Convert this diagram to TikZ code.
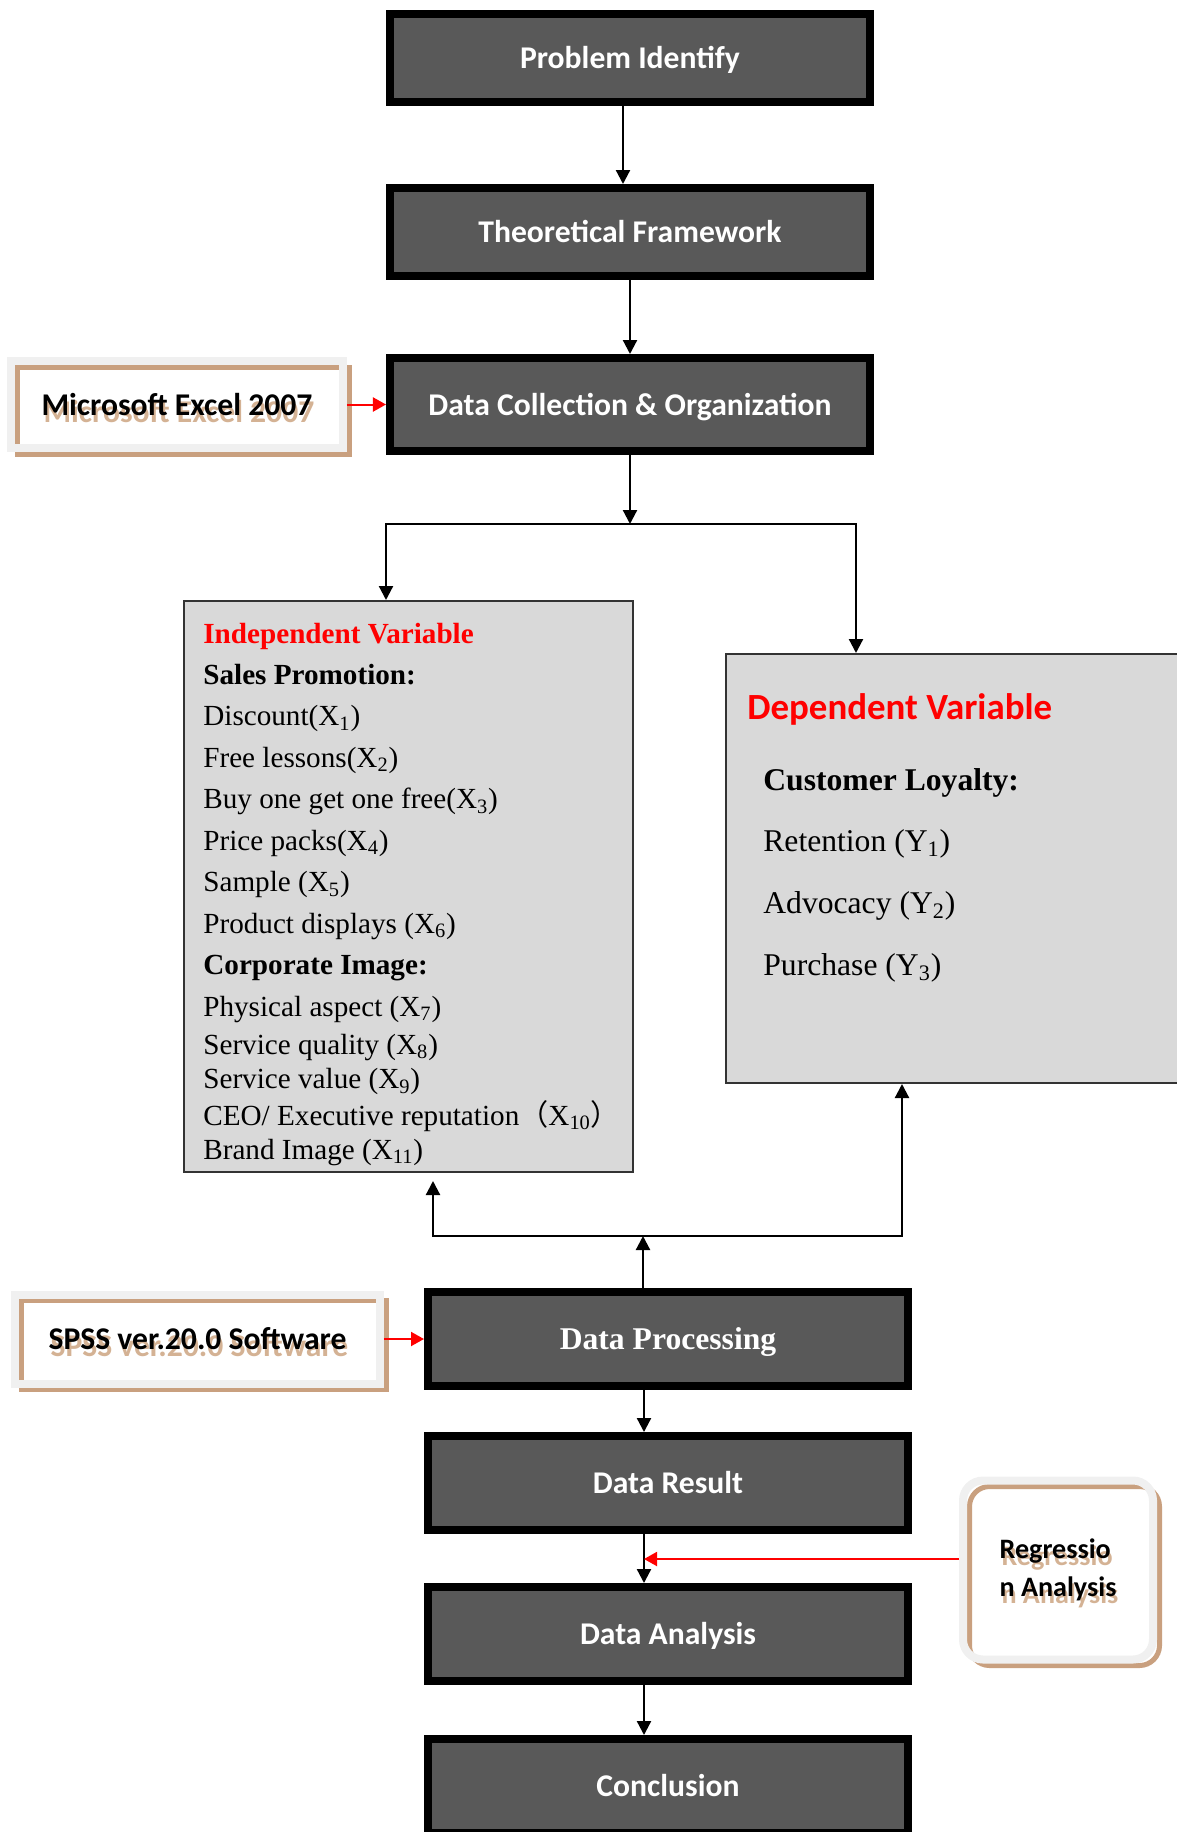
\documentclass[tikz,border=0pt]{standalone}
\usepackage{fontspec}
\setmainfont{Liberation Serif}
\newfontfamily\calibri{Carlito}
\newfontfamily\cjk{Noto Sans CJK SC}
\usepackage{xcolor}
\usetikzlibrary{arrows.meta, positioning}

\definecolor{boxgray}{RGB}{89,89,89}
\definecolor{panelgray}{RGB}{217,217,217}
\definecolor{framegray}{RGB}{240,240,240}
\definecolor{shadowtan}{RGB}{201,160,127}
\definecolor{ghosttan}{RGB}{212,178,148}

% text with a soft brown copy a little below it
\newcommand{\ghost}[1]{\leavevmode\rlap{\kern1.1pt\raisebox{-4pt}[0pt][0pt]{\color{ghosttan}#1}}#1}

\begin{document}
\begin{tikzpicture}[x=0.2mm, y=-0.2mm,
    stepbox/.style={rectangle, draw=black, line width=1.6mm, fill=boxgray,
                    minimum width=96mm, minimum height=18.8mm, text=white,
                    text height=12pt, text depth=0pt,
                    font=\calibri\bfseries\fontsize{18}{22}\selectfont},
    softbox/.style={rectangle, draw=framegray, line width=1.6mm,
                    preaction={fill=white},
                    preaction={draw=shadowtan, line width=1mm,
                               transform canvas={shift={(1.3mm,-1.2mm)}}},
                    font=\calibri\bfseries\fontsize{18}{22}\selectfont},
    panel/.style={rectangle, draw=black!80, line width=0.4mm, fill=panelgray},
    arrow/.style={-{Triangle[width=2.8mm, length=2.8mm]}, line width=0.45mm},
    redarrow/.style={-{Triangle[width=2.8mm, length=2.6mm]}, line width=0.4mm, red},
    node distance=8mm
]
\useasboundingbox (0,0) rectangle (1176,1832);

% main column, upper part
\node[stepbox, minimum height=17.6mm] (prob) at (630,58) {Problem Identify};
\node[stepbox, minimum height=17.6mm, below=15.6mm of prob] (theo) {Theoretical Framework};
\node[stepbox, minimum height=18.6mm, below=14.8mm of theo] (dcol) {Data Collection \& Organization};
\node[softbox, minimum width=66.4mm, minimum height=17.4mm, left=7.8mm of dcol] (excel) {\ghost{Microsoft Excel 2007}};

% variables
\node[panel, minimum width=89.8mm, minimum height=114.2mm] (iv) at (408.5,886.5) {};
\node[panel, minimum width=90.4mm, minimum height=85.8mm] (dv) at (952,868.5) {};

\node[anchor=base west, inner sep=0pt, font=\fontsize{16.6}{18.7}\selectfont] (ivlist) at (203,643) {%
  \begin{tabular}[t]{@{}l@{}}
    \textcolor{red}{\textbf{Independent Variable}}\\[4.9pt]
    \textbf{Sales Promotion:}\\[4.9pt]
    Discount(X\textsubscript{1})\\[4.9pt]
    Free lessons(X\textsubscript{2})\\[4.9pt]
    Buy one get one free(X\textsubscript{3})\\[4.9pt]
    Price packs(X\textsubscript{4})\\[4.9pt]
    Sample (X\textsubscript{5})\\[4.9pt]
    Product displays (X\textsubscript{6})\\[4.9pt]
    \textbf{Corporate Image:}\\[4.9pt]
    Physical aspect (X\textsubscript{7})\\[3pt]
    Service quality (X\textsubscript{8})\\[0.7pt]
    Service value (X\textsubscript{9})\\[2.3pt]
    CEO/ Executive reputation\smash{\cjk （}X\textsubscript{10}\smash{\cjk ）}\\[0.6pt]
    Brand Image (X\textsubscript{11})
  \end{tabular}};

\node[anchor=base west, inner sep=0pt, text=red,
      font=\calibri\bfseries\fontsize{21}{24}\selectfont] (dvhead) at (747,719) {Dependent Variable};
\node[anchor=base west, inner sep=0pt, font=\fontsize{18}{35.2}\selectfont] (dvlist) at (763,790) {%
  \begin{tabular}[t]{@{}l@{}}
    \textbf{Customer Loyalty:}\\
    Retention (Y\textsubscript{1})\\
    Advocacy (Y\textsubscript{2})\\
    Purchase (Y\textsubscript{3})
  \end{tabular}};

% main column, lower part
\node[stepbox, font=\bfseries\fontsize{18}{22}\selectfont] (dp) at (668,1339) {Data Processing};
\node[stepbox, below=8.4mm of dp] (dr) {Data Result};
\node[stepbox, below=9.8mm of dr] (da) {Data Analysis};
\node[stepbox, below=10mm of da] (conc) {Conclusion};
\node[softbox, minimum width=73mm, minimum height=17.8mm, left=8mm of dp] (spss) {\ghost{SPSS ver.20.0 Software}};
\node[softbox, rounded corners=4mm, minimum width=38mm, minimum height=35.8mm, align=left,
      font=\calibri\bfseries\fontsize{16}{21.5}\selectfont] (reg) at (1058,1570) {\ghost{Regressio}\\\ghost{n Analysis}};

% connectors
\draw[arrow] ([xshift=-1.4mm]prob.south) -- ([xshift=-1.4mm]theo.north);
\draw[arrow] (theo) -- (dcol);

\coordinate (split) at (630,524);
\draw[arrow] (dcol) -- (split);
\draw[arrow] (split) -| (iv.north -| 386,0);
\draw[arrow] (split) -| (dv.north -| 856,0);

\coordinate (join) at (643,1236);
\coordinate (ivfoot) at (433,1181);
\draw[arrow] (dp.north -| join) -- (join);
\draw[arrow] (join) -| (ivfoot);
\draw[arrow] (join) -| (dv.south -| 902,0);

\foreach \a/\b in {dp/dr, dr/da, da/conc}
    \draw[arrow] ([xshift=-4.8mm]\a.south) -- ([xshift=-4.8mm]\b.north);

\draw[redarrow] (excel.east) -- (excel.east -| dcol.west);
\draw[redarrow] (spss.east) -- (spss.east -| dp.west);
\coordinate (tap) at ([xshift=-4.8mm]dr.south);
\coordinate (regin) at ([yshift=2.2mm]reg.west);
\draw[redarrow] (regin) -- (regin -| tap);
\end{tikzpicture}
\end{document}
